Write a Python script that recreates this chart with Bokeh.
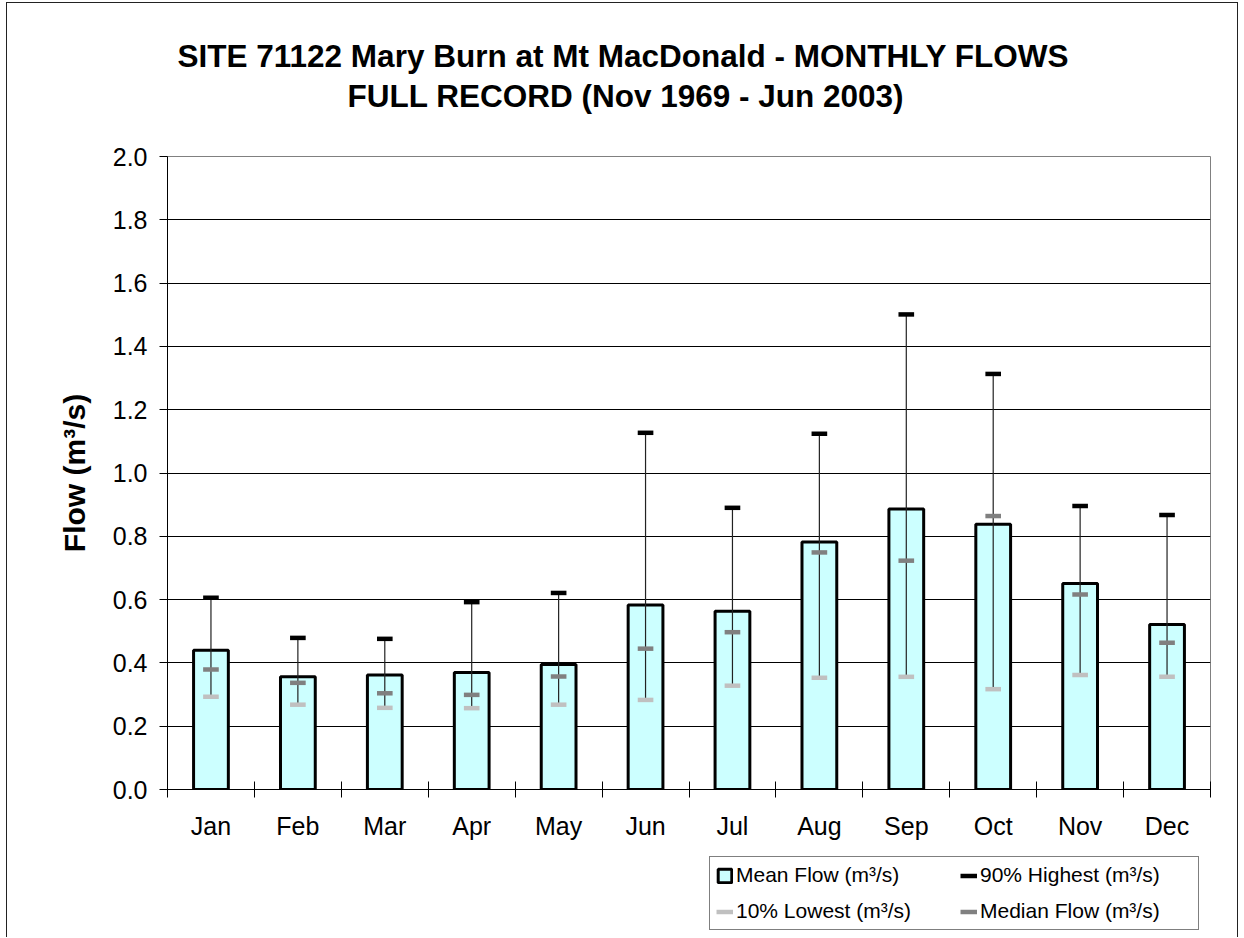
import numpy as np
from bokeh.plotting import figure
from bokeh.layouts import column
from bokeh.models import (Range1d, LinearAxis, FixedTicker, Title,
                          Legend, LegendItem, NumeralTickFormatter, ColumnDataSource)
from bokeh.embed import file_html
from bokeh.resources import INLINE

# ---- data ----
months = ["Jan", "Feb", "Mar", "Apr", "May", "Jun",
          "Jul", "Aug", "Sep", "Oct", "Nov", "Dec"]
mean_flow = [0.440, 0.356, 0.362, 0.370, 0.395, 0.583,
             0.563, 0.782, 0.886, 0.838, 0.651, 0.521]
high_90 = [0.606, 0.479, 0.476, 0.592, 0.621, 1.127,
           0.890, 1.124, 1.501, 1.313, 0.896, 0.867]
median_flow = [0.379, 0.337, 0.304, 0.299, 0.357, 0.445,
               0.497, 0.749, 0.723, 0.864, 0.616, 0.464]
low_10 = [0.293, 0.268, 0.258, 0.257, 0.268, 0.283,
          0.328, 0.353, 0.356, 0.317, 0.362, 0.356]
y_ticks = [0.0, 0.2, 0.4, 0.6, 0.8, 1.0, 1.2, 1.4, 1.6, 1.8, 2.0]
title_line1 = "SITE 71122 Mary Burn at Mt MacDonald - MONTHLY FLOWS"
title_line2 = "FULL RECORD (Nov 1969 - Jun 2003)"
y_label = "Flow (m\u00b3/s)"
legend_labels = ["Mean Flow (m\u00b3/s)", "90% Highest (m\u00b3/s)",
                 "10% Lowest (m\u00b3/s)", "Median Flow (m\u00b3/s)"]

FONT = "Liberation Sans"
BAR_FILL = "#CCFFFF"
C90, CMED, C10 = "black", "#808080", "#C0C0C0"

# category slots: month i occupies [i, i+1] on the x scale
centres = [i + 0.5 for i in range(len(months))]
bounds = [float(i) for i in range(len(months) + 1)]
DASH = 0.09

src = ColumnDataSource(dict(x=centres, month=months, mean=mean_flow,
                            p90=high_90, med=median_flow, p10=low_10,
                            xl=[c - DASH for c in centres],
                            xr=[c + DASH for c in centres]))

p = figure(x_range=Range1d(0, len(months)), y_range=Range1d(0, 2),
           width=1230, height=846,
           output_backend="svg", toolbar_location=None,
           x_axis_location=None, title=None,
           min_border_left=160, min_border_right=27,
           min_border_top=153, min_border_bottom=60)
p.background_fill_color = "white"
p.border_fill_color = "white"
p.outline_line_color = "#808080"
p.outline_line_width = 1

# titles: spacer nearest the frame, then line 2, then line 1
spacer = Title(text=" ", text_font_size="1px", standoff=39)
t2 = Title(text=title_line2, align="left", offset=180, standoff=2,
           text_font=FONT, text_font_size="31.5px", text_font_style="bold",
           text_color="black")
t1 = Title(text=title_line1, align="left", offset=10, standoff=2,
           text_font=FONT, text_font_size="31.5px", text_font_style="bold",
           text_color="black")
p.add_layout(spacer, "above")
p.add_layout(t2, "above")
p.add_layout(t1, "above")

# y axis
ya = p.yaxis[0]
ya.ticker = FixedTicker(ticks=y_ticks)
ya.formatter = NumeralTickFormatter(format="0.0")
ya.axis_line_color = "black"
ya.major_tick_line_color = "black"
ya.major_tick_in = 0
ya.major_tick_out = 8
ya.minor_tick_line_color = None
ya.major_label_standoff = 12
ya.major_label_text_font = FONT
ya.major_label_text_font_size = "25px"
ya.major_label_text_color = "black"
ya.axis_label = y_label
ya.axis_label_text_font = FONT
ya.axis_label_text_font_size = "30px"
ya.axis_label_text_font_style = "bold"
ya.axis_label_text_color = "black"
ya.axis_label_standoff = 19

p.ygrid.ticker = FixedTicker(ticks=y_ticks)
p.ygrid.grid_line_color = "black"
p.ygrid.grid_line_width = 1
p.xgrid.grid_line_color = None

# x axis: labels at category centres, tick marks between categories
xa = LinearAxis(ticker=FixedTicker(ticks=centres, minor_ticks=bounds))
xa.major_label_overrides = {c: m for c, m in zip(centres, months)}
xa.axis_line_color = "black"
xa.major_tick_line_color = None
xa.major_tick_in = 0
xa.major_tick_out = 0
xa.minor_tick_line_color = "black"
xa.minor_tick_in = 8
xa.minor_tick_out = 8
xa.major_label_standoff = 14
xa.major_label_text_font = FONT
xa.major_label_text_font_size = "25px"
xa.major_label_text_color = "black"
p.add_layout(xa, "below")

# bars
p.vbar(x="x", top="mean", bottom=0, width=0.4, source=src,
       fill_color=BAR_FILL, line_color="black", line_width=3)
# whiskers
p.segment(x0="x", x1="x", y0="p10", y1="p90", source=src,
          line_color="#222222", line_width=1.2)
# markers
for field, color in (("p10", C10), ("med", CMED), ("p90", C90)):
    p.segment(x0="xl", x1="xr", y0=field, y1=field, source=src,
              line_color=color, line_width=4.5)

# ---- legend strip below the chart (own canvas so nothing is clipped) ----
p2 = figure(x_range=Range1d(0, 1), y_range=Range1d(0, 1),
            width=1230, height=88, output_backend="svg", toolbar_location=None,
            x_axis_location=None, y_axis_location=None, title=None,
            min_border_left=0, min_border_right=0,
            min_border_top=0, min_border_bottom=0)
p2.outline_line_color = None
p2.background_fill_color = "white"
p2.border_fill_color = "white"
p2.xgrid.visible = False
p2.ygrid.visible = False

# legend proxies: one undefined (NaN) row, so only the legend swatches show
proxy = ColumnDataSource(dict(x=np.array([np.nan]), y=np.array([np.nan]),
                              x0=np.array([np.nan]), x1=np.array([np.nan])))
lb = p2.vbar(x="x", top="y", bottom=0, width=0.4, source=proxy,
             fill_color=BAR_FILL, line_color="black", line_width=3)
l90 = p2.segment(x0="x0", x1="x1", y0="y", y1="y", source=proxy,
                 line_color=C90, line_width=4.5)
l10 = p2.segment(x0="x0", x1="x1", y0="y", y1="y", source=proxy,
                 line_color=C10, line_width=4.5)
lmed = p2.segment(x0="x0", x1="x1", y0="y", y1="y", source=proxy,
                  line_color=CMED, line_width=4.5)

legend = Legend(items=[LegendItem(label=legend_labels[0], renderers=[lb]),
                       LegendItem(label=legend_labels[1], renderers=[l90]),
                       LegendItem(label=legend_labels[2], renderers=[l10]),
                       LegendItem(label=legend_labels[3], renderers=[lmed])],
                orientation="horizontal", ncols=2,
                location=(542, 7),
                glyph_width=17, glyph_height=17, label_height=17,
                label_width=212, label_standoff=3, spacing=12, padding=6,
                margin=0,
                label_text_font=FONT, label_text_font_size="21px",
                label_text_color="black",
                border_line_color="black", border_line_width=1,
                background_fill_color="white", background_fill_alpha=1)
p2.add_layout(legend)

page = column(p, p2, spacing=0)
page.styles = {"margin-left": "6px", "margin-top": "2px",
               "border-left": "1px solid #222", "border-top": "1px solid #222",
               "border-right": "1px solid #222"}

open("out.html", "w").write(file_html(page, INLINE))
